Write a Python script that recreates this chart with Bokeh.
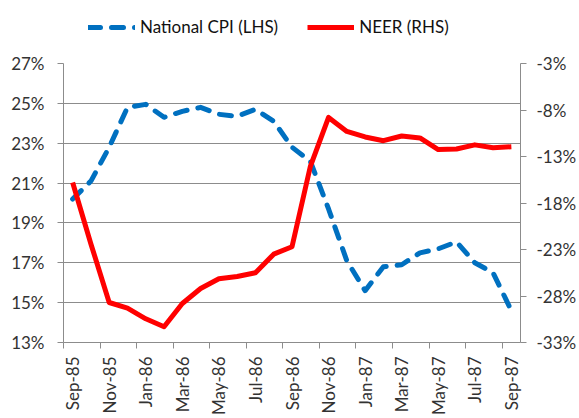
import math
from bokeh.plotting import figure
from bokeh.layouts import column
from bokeh.models import (Range1d, LinearAxis, FixedTicker, PrintfTickFormatter,
                          Legend, LegendItem)
from bokeh.embed import file_html
from bokeh.resources import INLINE

months = ["Sep-85", "Oct-85", "Nov-85", "Dec-85", "Jan-86", "Feb-86", "Mar-86",
          "Apr-86", "May-86", "Jun-86", "Jul-86", "Aug-86", "Sep-86", "Oct-86",
          "Nov-86", "Dec-86", "Jan-87", "Feb-87", "Mar-87", "Apr-87", "May-87",
          "Jun-87", "Jul-87", "Aug-87", "Sep-87"]
cpi = [20.2, 21.1, 22.8, 24.8, 24.95, 24.3, 24.6, 24.8, 24.45, 24.35, 24.7, 24.1,
       22.8, 22.1, 19.7, 17.1, 15.6, 16.8, 16.9, 17.5, 17.7, 18.05, 17.0, 16.5, 14.6]
neer = [-15.8, -22.4, -28.7, -29.3, -30.45, -31.3, -28.8, -27.2, -26.15, -25.9,
        -25.5, -23.5, -22.7, -14.1, -8.8, -10.3, -10.9, -11.3, -10.8, -11.0,
        -12.25, -12.2, -11.75, -12.05, -11.95]
left_ticks = [13, 15, 17, 19, 21, 23, 25, 27]
right_ticks = [-33, -28, -23, -18, -13, -8, -3]
series_names = ["National CPI (LHS)", "NEER (RHS)"]

FONT = "Lato"
TXT = "#333333"
GRID = "#8c8c8c"
CPI_STYLE = dict(line_color="#0070C0", line_width=5, line_dash="12 11",
                 line_cap="round", line_join="round")
NEER_STYLE = dict(line_color="#FF0000", line_width=5, line_join="round")

W, H = 579, 418
LEG_H = 38

x = list(range(len(months)))

# ---- legend strip (its two key renderers hold a single point: nothing is drawn) ----
pl = figure(width=W, height=LEG_H, output_backend="svg", toolbar_location=None,
            x_axis_type=None, y_axis_type=None,
            min_border_left=0, min_border_right=0, min_border_top=0,
            min_border_bottom=0)
pl.outline_line_color = None
pl.xgrid.visible = False
pl.ygrid.visible = False
lr_cpi = pl.line(x[:1], cpi[:1], **CPI_STYLE)
lr_neer = pl.line(x[:1], neer[:1], **NEER_STYLE)
legend = Legend(items=[LegendItem(label=series_names[0], renderers=[lr_cpi]),
                       LegendItem(label=series_names[1], renderers=[lr_neer])],
                orientation="horizontal", location=(25, 1),
                glyph_width=47, glyph_height=20, label_height=20,
                label_standoff=5, spacing=29,
                padding=0, margin=0, border_line_color=None,
                background_fill_alpha=0,
                label_text_font=FONT, label_text_font_size="17px",
                label_text_color="#111111")
pl.add_layout(legend, "center")

# ---- main chart ----
p = figure(width=W, height=H - LEG_H, output_backend="svg", toolbar_location=None,
           x_range=Range1d(-0.5, len(months) - 0.5),
           y_range=Range1d(left_ticks[0], left_ticks[-1]),
           min_border_left=63, min_border_right=59,
           min_border_top=63 - LEG_H, min_border_bottom=76)
p.extra_y_ranges = {"neer": Range1d(right_ticks[0], right_ticks[-1])}
p.outline_line_color = None

p.line(x, cpi, **CPI_STYLE)
p.line(x, neer, y_range_name="neer", **NEER_STYLE)

# x axis
xa = p.xaxis[0]
xa.ticker = FixedTicker(ticks=x[::2], minor_ticks=[i - 0.5 for i in x[::2]])
xa.major_label_overrides = {i: months[i] for i in x[::2]}
xa.major_label_orientation = math.pi / 2
xa.major_tick_line_color = None
xa.minor_tick_line_color = GRID
xa.minor_tick_in = 0
xa.minor_tick_out = 6
xa.axis_line_color = GRID
xa.major_label_standoff = 8
xa.major_label_text_font = FONT
xa.major_label_text_font_size = "17px"
xa.major_label_text_color = TXT

# left axis
ya = p.yaxis[0]
ya.ticker = FixedTicker(ticks=left_ticks)
ya.formatter = PrintfTickFormatter(format="%d%%")
ya.major_tick_in = 0
ya.major_tick_out = 6
ya.major_tick_line_color = GRID
ya.minor_tick_line_color = None
ya.axis_line_color = GRID
ya.major_label_standoff = 13
ya.major_label_text_font = FONT
ya.major_label_text_font_size = "17px"
ya.major_label_text_color = TXT

# right axis
ra = LinearAxis(y_range_name="neer", ticker=FixedTicker(ticks=right_ticks),
                formatter=PrintfTickFormatter(format="%d%%"))
ra.major_tick_in = 0
ra.major_tick_out = 6
ra.major_tick_line_color = GRID
ra.minor_tick_line_color = None
ra.axis_line_color = GRID
ra.major_label_standoff = 10
ra.major_label_text_font = FONT
ra.major_label_text_font_size = "17px"
ra.major_label_text_color = TXT
p.add_layout(ra, "right")

p.xgrid.visible = False
p.ygrid.ticker = FixedTicker(ticks=left_ticks)
p.ygrid.grid_line_color = GRID
p.ygrid.grid_line_width = 1

layout = column(pl, p, spacing=0)
open("out.html", "w").write(file_html(layout, INLINE))
